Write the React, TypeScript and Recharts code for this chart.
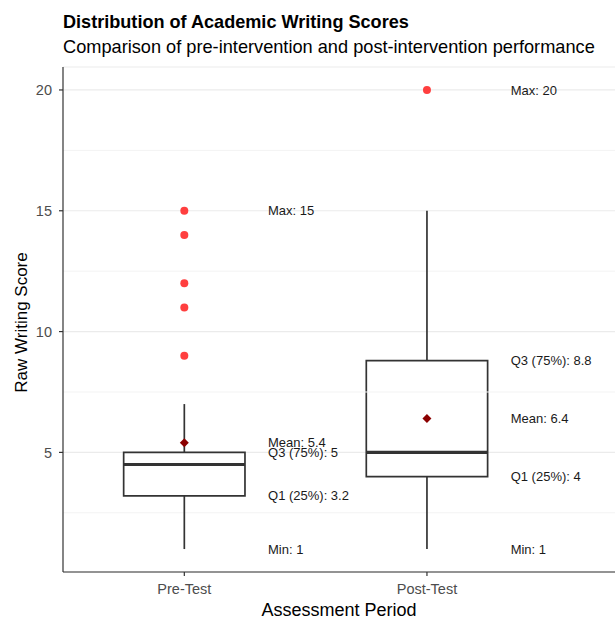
import {
  ComposedChart, XAxis, YAxis, CartesianGrid, Scatter, ReferenceLine, ReferenceArea,
} from 'recharts';

const categories = ['Pre-Test', 'Post-Test'];
const positions = [1, 2];
const mins = [1, 1];
const q1s = [3.2, 4];
const medians = [4.5, 5];
const q3s = [5, 8.8];
const upperWhiskers = [7, 15];
const maxes = [15, 20];
const means = [5.4, 6.4];
const outliers = [[9, 11, 12, 14, 15], [20]];
const yTicks = [5, 10, 15, 20];
const minorTicks = [2.5, 7.5, 12.5, 17.5];

const FONT = '"Liberation Sans", Arial, sans-serif';
const BOX_HALF = 0.25;
const LABEL_SHIFT = 0.345;

const outlierData = outliers.flatMap((vals, i) => vals.map((v) => ({ x: positions[i], y: v })));
const meanData = means.map((m, i) => ({ x: positions[i], y: m }));
const labelData = positions.flatMap((p, i) => [
  { x: p + LABEL_SHIFT, y: maxes[i], text: `Max: ${maxes[i]}` },
  { x: p + LABEL_SHIFT, y: q3s[i], text: `Q3 (75%): ${q3s[i]}` },
  { x: p + LABEL_SHIFT, y: means[i], text: `Mean: ${means[i]}` },
  { x: p + LABEL_SHIFT, y: q1s[i], text: `Q1 (25%): ${q1s[i]}` },
  { x: p + LABEL_SHIFT, y: mins[i], text: `Min: ${mins[i]}` },
]);

const Diamond = (props: any) => {
  const { cx, cy } = props;
  const s = 4.5;
  return <polygon points={`${cx},${cy - s} ${cx + s},${cy} ${cx},${cy + s} ${cx - s},${cy}`} fill="#8b0000" />;
};

const Dot = (props: any) => <circle cx={props.cx} cy={props.cy} r={4} fill="#ff2a2a" fillOpacity={0.9} />;

const StatText = (props: any) => (
  <text x={props.cx} y={props.cy} dy="0.35em" fontSize={13} fill="#1a1a1a" fontFamily={FONT}>
    {props.payload.text}
  </text>
);

const YTitle = (props: any) => {
  const { viewBox } = props;
  const cy = viewBox.y + viewBox.height / 2 + 3;
  return (
    <text x={21} y={cy} transform={`rotate(-90, 21, ${cy})`} textAnchor="middle" dominantBaseline="central"
      fontSize={17} fill="#000" fontFamily={FONT}>
      Raw Writing Score
    </text>
  );
};

export default function App() {
  const stroke = '#333333';
  return (
    <div style={{ position: 'absolute', left: 0, top: 0, width: 615, height: 620, background: '#fff', fontFamily: FONT }}>
      <svg width={615} height={60} style={{ position: 'absolute', left: 0, top: 0 }}>
        <text x={63} y={28} fontSize={18.1} fontWeight="bold" fill="#000" fontFamily={FONT}>
          Distribution of Academic Writing Scores
        </text>
        <text x={63} y={53} fontSize={18.2} fill="#000" fontFamily={FONT}>
          Comparison of pre-intervention and post-intervention performance
        </text>
      </svg>
      <div style={{ position: 'absolute', left: 0, top: 0 }}>
        <ComposedChart width={615} height={620} margin={{ top: 67, right: 0, left: 0, bottom: 0 }}>
          <CartesianGrid vertical={false} stroke="#ebebeb" strokeWidth={1.2} />
          {minorTicks.map((t) => (
            <ReferenceLine key={t} y={t} stroke="#f3f3f3" strokeWidth={1} />
          ))}
          <XAxis
            type="number"
            dataKey="x"
            domain={[0.5, 2.775]}
            allowDataOverflow
            ticks={positions}
            tickFormatter={(v) => categories[positions.indexOf(v)] ?? ''}
            height={48}
            tickSize={4}
            tickMargin={8}
            tick={{ fill: '#4d4d4d', fontSize: 14.5, fontFamily: FONT }}
            axisLine={{ stroke, strokeWidth: 1.2 }}
            tickLine={{ stroke, strokeWidth: 1.2 }}
            label={{ value: 'Assessment Period', position: 'insideBottom', offset: 4, fontSize: 18, fill: '#000', fontFamily: FONT }}
          />
          <YAxis
            type="number"
            dataKey="y"
            domain={[0.05, 20.95]}
            allowDataOverflow
            ticks={yTicks}
            width={63}
            tickSize={4}
            tickMargin={7}
            tick={{ fill: '#4d4d4d', fontSize: 14.5, fontFamily: FONT }}
            axisLine={{ stroke, strokeWidth: 1.2 }}
            tickLine={{ stroke, strokeWidth: 1.2 }}
            label={<YTitle />}
          />
          {positions.map((p, i) => (
            <ReferenceLine key={`lw${i}`} segment={[{ x: p, y: mins[i] }, { x: p, y: q1s[i] }]} stroke={stroke} strokeWidth={1.7} />
          ))}
          {positions.map((p, i) => (
            <ReferenceLine key={`uw${i}`} segment={[{ x: p, y: q3s[i] }, { x: p, y: upperWhiskers[i] }]} stroke={stroke} strokeWidth={1.7} />
          ))}
          {positions.map((p, i) => (
            <ReferenceArea key={`box${i}`} x1={p - BOX_HALF} x2={p + BOX_HALF} y1={q1s[i]} y2={q3s[i]}
              fill="#ffffff" fillOpacity={1} stroke={stroke} strokeWidth={1.7} />
          ))}
          {positions.map((p, i) => (
            <ReferenceLine key={`med${i}`} segment={[{ x: p - BOX_HALF, y: medians[i] }, { x: p + BOX_HALF, y: medians[i] }]}
              stroke={stroke} strokeWidth={3.2} />
          ))}
          <Scatter data={outlierData} dataKey="y" shape={<Dot />} isAnimationActive={false} />
          <Scatter data={meanData} dataKey="y" shape={<Diamond />} isAnimationActive={false} />
          <Scatter data={labelData} dataKey="y" shape={<StatText />} isAnimationActive={false} />
        </ComposedChart>
      </div>
    </div>
  );
}
